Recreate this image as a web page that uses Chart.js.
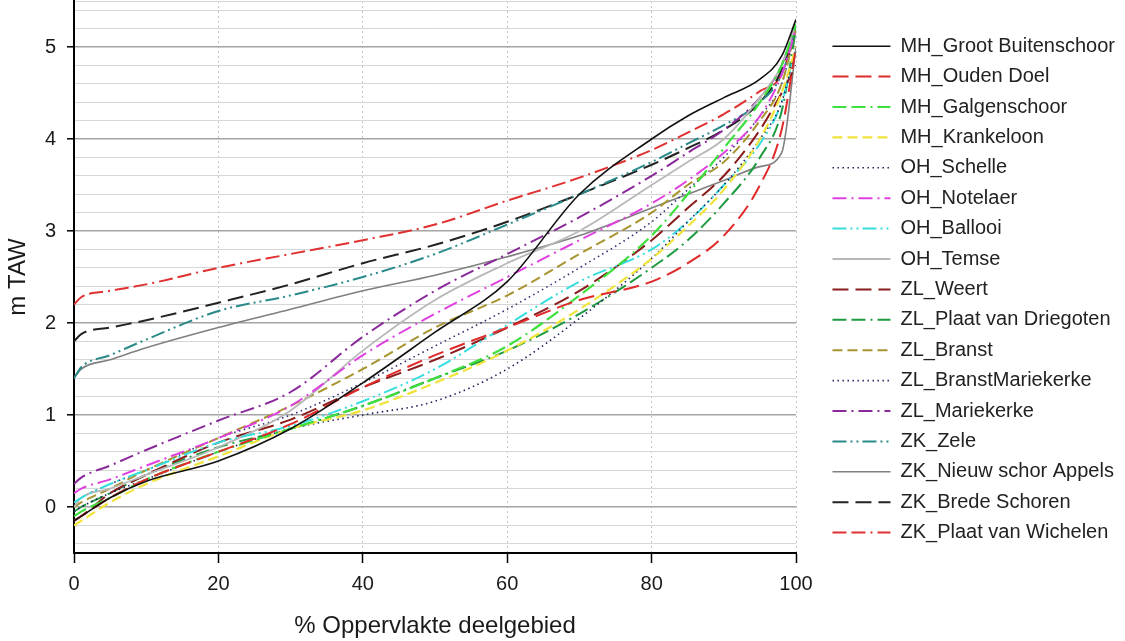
<!DOCTYPE html>
<html>
<head>
<meta charset="utf-8">
<title>Hypsometrie deelgebieden</title>
<script src="https://cdn.jsdelivr.net/npm/chart.js@4.4.1/dist/chart.umd.min.js"></script>
<style>
  html, body { margin: 0; padding: 0; background: #fff; }
  #wrap { width: 1125px; height: 641px; }
</style>
</head>
<body>
<div id="wrap"><canvas id="chart" width="1125" height="641"></canvas></div>
<script>
// x: % oppervlakte deelgebied (shared by all curves)
const pct = [0, 1, 5, 10, 20, 30, 40, 50, 60, 70, 80, 85, 90, 95, 98, 100];

// y: m TAW per deelgebied
const grootBuitenschoor = [-0.15, -0.1, 0.1, 0.28, 0.5, 0.85, 1.35, 1.9, 2.45, 3.4, 4.0, 4.25, 4.45, 4.65, 4.9, 5.3];
const oudenDoel         = [-0.15, -0.1, 0.1, 0.3, 0.6, 0.9, 1.3, 1.65, 1.95, 2.25, 2.45, 2.65, 2.95, 3.5, 4.1, 5.0];
const galgenschoor      = [-0.1, -0.05, 0.1, 0.3, 0.6, 0.85, 1.1, 1.4, 1.75, 2.3, 2.95, 3.4, 3.9, 4.4, 4.8, 5.25];
const krankeloon        = [-0.2, -0.15, 0.05, 0.25, 0.55, 0.85, 1.05, 1.35, 1.7, 2.15, 2.7, 3.05, 3.45, 4.0, 4.5, 5.0];
const schelle           = [-0.05, 0.0, 0.15, 0.3, 0.6, 0.85, 1.0, 1.15, 1.5, 2.05, 2.7, 3.1, 3.5, 4.0, 4.4, 5.0];
const notelaer          = [0.15, 0.2, 0.3, 0.45, 0.75, 1.1, 1.65, 2.1, 2.5, 2.9, 3.3, 3.55, 3.85, 4.25, 4.7, 5.2];
const ballooi           = [0.05, 0.1, 0.25, 0.4, 0.7, 0.88, 1.15, 1.5, 1.98, 2.45, 2.8, 3.1, 3.5, 3.95, 4.4, 5.0];
const temse             = [0.0, 0.1, 0.2, 0.35, 0.65, 1.05, 1.7, 2.25, 2.65, 3.0, 3.5, 3.75, 4.0, 4.45, 4.8, 5.25];
const weert             = [-0.15, -0.1, 0.15, 0.35, 0.7, 0.95, 1.3, 1.6, 1.95, 2.35, 2.9, 3.25, 3.6, 4.1, 4.5, 4.8];
const driegoten         = [-0.05, 0.0, 0.15, 0.35, 0.65, 0.85, 1.1, 1.4, 1.7, 2.1, 2.6, 2.9, 3.3, 3.8, 4.3, 5.2];
const branst            = [0.0, 0.05, 0.2, 0.4, 0.75, 1.1, 1.5, 1.95, 2.3, 2.75, 3.2, 3.5, 3.75, 4.2, 4.6, 5.2];
const branstMariekerke  = [0.05, 0.1, 0.25, 0.4, 0.75, 1.0, 1.35, 1.75, 2.15, 2.6, 3.1, 3.45, 3.8, 4.25, 4.6, 5.2];
const mariekerke        = [0.25, 0.32, 0.45, 0.62, 0.94, 1.25, 1.85, 2.35, 2.75, 3.15, 3.6, 3.85, 4.1, 4.45, 4.8, 5.25];
const zele              = [1.4, 1.52, 1.65, 1.82, 2.13, 2.3, 2.5, 2.75, 3.07, 3.4, 3.75, 3.95, 4.15, 4.4, 4.7, 5.2];
const appels            = [1.4, 1.5, 1.6, 1.73, 1.95, 2.15, 2.35, 2.52, 2.72, 2.95, 3.25, 3.4, 3.55, 3.7, 3.85, 5.0];
const bredeSchoren      = [1.8, 1.88, 1.95, 2.03, 2.22, 2.42, 2.65, 2.85, 3.1, 3.4, 3.72, 3.9, 4.1, 4.4, 4.75, 5.25];
const wichelen          = [2.2, 2.28, 2.35, 2.42, 2.6, 2.75, 2.9, 3.07, 3.33, 3.58, 3.88, 4.07, 4.27, 4.52, 4.7, 5.2];

// y grid / tick positions (labels only on whole metres)
const yTicks = [-0.4, -0.2, 0, 0.2, 0.4, 0.6, 0.8, 1, 1.2, 1.4, 1.6, 1.8, 2, 2.2, 2.4, 2.6, 2.8,
                3, 3.2, 3.4, 3.6, 3.8, 4, 4.2, 4.4, 4.6, 4.8, 5, 5.2, 5.4, 5.5];

const FONT = "'Liberation Sans', Arial, sans-serif";

// line styles
const LONG = [16, 7];
const SHORT = [10, 5];
const DOT = [1.5, 3.5];
const DASHDOT = [14, 5, 2, 5];
const DASHDOTDOT = [14, 4, 2, 4, 2, 4];
const DASHDASHDOT = [14, 5, 14, 5, 2, 5];

const series = [
    ['MH_Groot Buitenschoor', grootBuitenschoor, '#111111', [], 1.6],
    ['MH_Ouden Doel', oudenDoel, '#e02a2a', LONG, 2],
    ['MH_Galgenschoor', galgenschoor, '#3ee03e', DASHDASHDOT, 2.2],
    ['MH_Krankeloon', krankeloon, '#f0e43c', SHORT, 2.2],
    ['OH_Schelle', schelle, '#20205a', DOT, 1.6],
    ['OH_Notelaer', notelaer, '#e040e0', DASHDOT, 2],
    ['OH_Ballooi', ballooi, '#36dede', DASHDOTDOT, 2],
    ['OH_Temse', temse, '#b8b8b8', [], 1.8],
    ['ZL_Weert', weert, '#8a1c1c', LONG, 2],
    ['ZL_Plaat van Driegoten', driegoten, '#1f9a40', DASHDASHDOT, 2],
    ['ZL_Branst', branst, '#a89430', SHORT, 2],
    ['ZL_BranstMariekerke', branstMariekerke, '#303070', DOT, 1.6],
    ['ZL_Mariekerke', mariekerke, '#8a2a9a', DASHDOT, 2],
    ['ZK_Zele', zele, '#2a8a8a', DASHDOTDOT, 2],
    ['ZK_Nieuw schor Appels', appels, '#808080', [], 1.6],
    ['ZK_Brede Schoren', bredeSchoren, '#222222', LONG, 2],
    ['ZK_Plaat van Wichelen', wichelen, '#e03030', DASHDASHDOT, 2]
];

const datasets = series.map(([label, values, color, dash, width]) => ({
    label,
    data: pct.map((x, i) => ({ x, y: values[i] })),
    borderColor: color,
    backgroundColor: color,
    borderDash: dash,
    borderWidth: width,
    pointRadius: 0,
    cubicInterpolationMode: 'monotone',
    fill: false
}));

const isWhole = v => Math.abs(v - Math.round(v)) < 1e-6;

// legend samples should carry the dataset's dash and width, not the point style's
function legendLabels(chart) {
    const items = Chart.defaults.plugins.legend.labels.generateLabels(chart);
    return items.map(item => {
        const ds = chart.data.datasets[item.datasetIndex];
        return { ...item, lineDash: ds.borderDash, lineWidth: ds.borderWidth };
    });
}

new Chart(document.getElementById('chart'), {
    type: 'line',
    data: { datasets },
    options: {
        responsive: false,
        devicePixelRatio: 1,
        animation: false,
        layout: { padding: { top: 1, right: 0, bottom: 0, left: 0 } },
        plugins: {
            tooltip: { enabled: false },
            legend: {
                position: 'right',
                align: 'end',
                fullSize: false,
                maxWidth: 340,
                labels: {
                    usePointStyle: true,
                    pointStyle: 'line',
                    pointStyleWidth: 58,
                    padding: 10.4,
                    color: '#222',
                    font: { family: FONT, size: 20 },
                    generateLabels: legendLabels
                }
            }
        },
        scales: {
            x: {
                type: 'linear',
                min: 0,
                max: 100,
                afterFit: s => { s.height = 88; },
                ticks: { stepSize: 20, padding: 9, color: '#1a1a1a', font: { family: FONT, size: 20 } },
                grid: {
                    color: ctx => ctx.tick.value === 0 ? 'rgba(0,0,0,0)' : '#c4c4c4',
                    lineWidth: 1,
                    tickColor: '#000',
                    tickLength: 10,
                    tickWidth: 1.5
                },
                border: { display: true, color: '#000', width: 2, dash: [2, 3] },
                title: {
                    display: true,
                    text: '% Oppervlakte deelgebied',
                    color: '#1a1a1a',
                    font: { family: FONT, size: 24 },
                    padding: { top: 0, bottom: 0 }
                }
            },
            y: {
                type: 'linear',
                min: -0.5,
                max: 5.5,
                afterBuildTicks: s => { s.ticks = yTicks.map(v => ({ value: v })); },
                afterFit: s => { s.width = 74; s.paddingTop = 0; s.paddingBottom = 0; },
                ticks: {
                    autoSkip: false,
                    padding: 11,
                    color: '#1a1a1a',
                    font: { family: FONT, size: 20 },
                    callback: v => isWhole(v) ? String(Math.round(v)) : ''
                },
                grid: {
                    color: ctx => isWhole(ctx.tick.value) ? '#a4a4a4' : '#d6d6d6',
                    lineWidth: ctx => isWhole(ctx.tick.value) ? 1.6 : 1,
                    tickColor: ctx => isWhole(ctx.tick.value) ? '#000' : 'rgba(0,0,0,0)',
                    tickLength: 7,
                    tickWidth: 1.5
                },
                border: { display: true, color: '#000', width: 2 },
                title: {
                    display: true,
                    text: 'm TAW',
                    color: '#1a1a1a',
                    font: { family: FONT, size: 24 },
                    padding: { top: 4, bottom: 0 }
                }
            },
            // empty strip between plot and legend
            gap: {
                type: 'linear',
                position: 'right',
                afterFit: s => { s.width = 26; },
                grid: { display: false },
                border: { display: false },
                ticks: { display: false }
            }
        }
    }
});
</script>
</body>
</html>
